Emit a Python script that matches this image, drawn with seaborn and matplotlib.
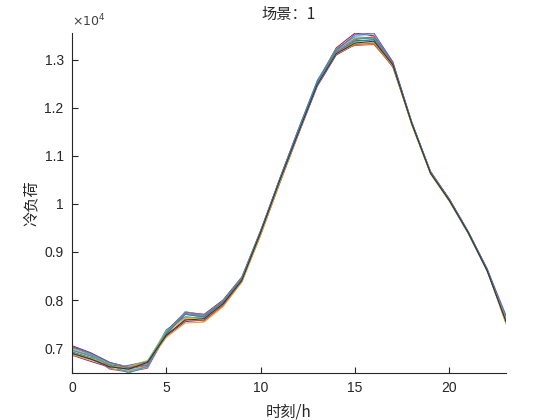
import numpy as np
import pandas as pd
import seaborn as sns
import matplotlib
matplotlib.use("Agg")
import matplotlib.pyplot as plt
from matplotlib.ticker import FuncFormatter, FixedLocator

hours = list(range(24))

s1 = [7050, 6900, 6700, 6600, 6700, 7350, 7750, 7700, 8000, 8480, 9450, 10500, 11550, 12550, 13250, 13560, 13500, 12950, 11700, 10650, 10100, 9420, 8650, 7600]
s2 = [6900, 6780, 6580, 6520, 6620, 7280, 7700, 7640, 7950, 8420, 9400, 10450, 11480, 12480, 13120, 13380, 13420, 12900, 11680, 10640, 10060, 9380, 8600, 7550]
s3 = [6980, 6850, 6680, 6600, 6700, 7320, 7620, 7600, 7920, 8400, 9380, 10480, 11520, 12520, 13200, 13450, 13480, 12880, 11650, 10620, 10050, 9400, 8640, 7620]
s4 = [6850, 6720, 6600, 6640, 6720, 7250, 7550, 7580, 7880, 8380, 9360, 10420, 11450, 12450, 13100, 13320, 13350, 12850, 11700, 10680, 10100, 9420, 8620, 7520]
s5 = [7000, 6880, 6620, 6540, 6600, 7300, 7760, 7680, 7980, 8460, 9440, 10520, 11560, 12580, 13220, 13500, 13540, 12960, 11720, 10660, 10080, 9400, 8600, 7580]
s6 = [6920, 6800, 6660, 6580, 6680, 7380, 7650, 7620, 7940, 8430, 9420, 10500, 11500, 12500, 13150, 13400, 13420, 12920, 11680, 10650, 10070, 9390, 8620, 7640]
s7 = [6880, 6760, 6640, 6560, 6640, 7260, 7600, 7560, 7900, 8400, 9400, 10460, 11480, 12520, 13180, 13300, 13320, 12870, 11660, 10640, 10090, 9410, 8630, 7560]
s8 = [7020, 6860, 6690, 6610, 6690, 7340, 7720, 7660, 7970, 8440, 9430, 10490, 11520, 12540, 13230, 13480, 13460, 12930, 11700, 10660, 10080, 9400, 8610, 7600]
s9 = [6950, 6830, 6560, 6500, 6580, 7290, 7740, 7700, 7960, 8460, 9450, 10510, 11540, 12500, 13160, 13420, 13480, 12940, 11690, 10650, 10070, 9410, 8640, 7590]
s10 = [6900, 6790, 6670, 6620, 6740, 7360, 7640, 7620, 7940, 8420, 9390, 10470, 11500, 12480, 13140, 13360, 13380, 12890, 11670, 10630, 10060, 9380, 8620, 7620]
s11 = [6860, 6750, 6620, 6600, 6680, 7220, 7520, 7540, 7860, 8370, 9350, 10430, 11470, 12500, 13120, 13330, 13360, 12870, 11680, 10650, 10090, 9420, 8630, 7500]
s12 = [7030, 6890, 6700, 6590, 6650, 7310, 7700, 7650, 7960, 8450, 9430, 10520, 11560, 12560, 13200, 13530, 13560, 12960, 11710, 10670, 10100, 9420, 8650, 7680]
s13 = [6960, 6840, 6650, 6480, 6620, 7330, 7720, 7680, 7980, 8470, 9440, 10500, 11530, 12530, 13190, 13440, 13450, 12910, 11690, 10650, 10080, 9400, 8620, 7580]
s14 = [6890, 6770, 6610, 6560, 6700, 7270, 7580, 7610, 7920, 8410, 9410, 10480, 11490, 12490, 13130, 13350, 13390, 12900, 11680, 10640, 10070, 9400, 8610, 7550]

scenarios = [s1, s2, s3, s4, s5, s6, s7, s8, s9, s10, s11, s12, s13, s14]
colors = ['#A2142F', '#77AC30', '#EDB120', '#7E2F8E', '#4DBEEE', '#0072BD', '#D95319',
          '#5a9e8f', '#c44e7a', '#8fbc5a', '#e0a030', '#6a5acd', '#3aa0a0', '#2f2f2f']

title_text = "场景：1"
xlabel_text = "时刻/h"
ylabel_text = "冷负荷"

rows = []
for i, s in enumerate(scenarios):
    for h, v in zip(hours, s):
        rows.append({"hour": h, "load": v, "scenario": f"s{i+1}"})
df = pd.DataFrame(rows)

sns.set_style("white")
plt.rcParams['font.family'] = ['Liberation Sans', 'Noto Sans CJK SC', 'DejaVu Sans']

fig = plt.figure(figsize=(5.6, 4.2), dpi=100)
ax = fig.add_axes([0.1286, 0.1119, 0.775, 0.8095])

sns.lineplot(data=df, x="hour", y="load", hue="scenario", palette=colors,
             legend=False, linewidth=0.7, ax=ax, estimator=None)

ax.set_xlim(min(hours), max(hours))
ax.set_ylim(df["load"].min(), df["load"].max())
ax.xaxis.set_major_locator(FixedLocator([0, 5, 10, 15, 20]))
ax.yaxis.set_major_locator(FixedLocator([7000, 8000, 9000, 10000, 11000, 12000, 13000]))
ax.yaxis.set_major_formatter(FuncFormatter(lambda v, p: f"{v/1e4:g}"))

for side in ['top', 'right']:
    ax.spines[side].set_visible(False)
for side in ['left', 'bottom']:
    ax.spines[side].set_color('#262626')
    ax.spines[side].set_linewidth(0.8)
ax.tick_params(direction='in', length=4, width=0.8, colors='#262626', labelsize=10,
               bottom=True, left=True, pad=6)

ax.text(0.0, 1.012, r'$\times10^{4}$', transform=ax.transAxes, ha='left', va='bottom',
        fontsize=9, color='#404040')
ax.set_title(title_text, fontsize=11, color='#262626', pad=10,
             family=['Noto Sans CJK SC', 'DejaVu Sans'])
ax.set_xlabel(xlabel_text, fontsize=11, color='#262626', labelpad=6,
              family=['Noto Sans CJK SC', 'DejaVu Sans'])
ax.set_ylabel(ylabel_text, fontsize=11, color='#262626', labelpad=3,
              family=['Noto Sans CJK SC', 'DejaVu Sans'])

fig.savefig("out.png", dpi=100)
